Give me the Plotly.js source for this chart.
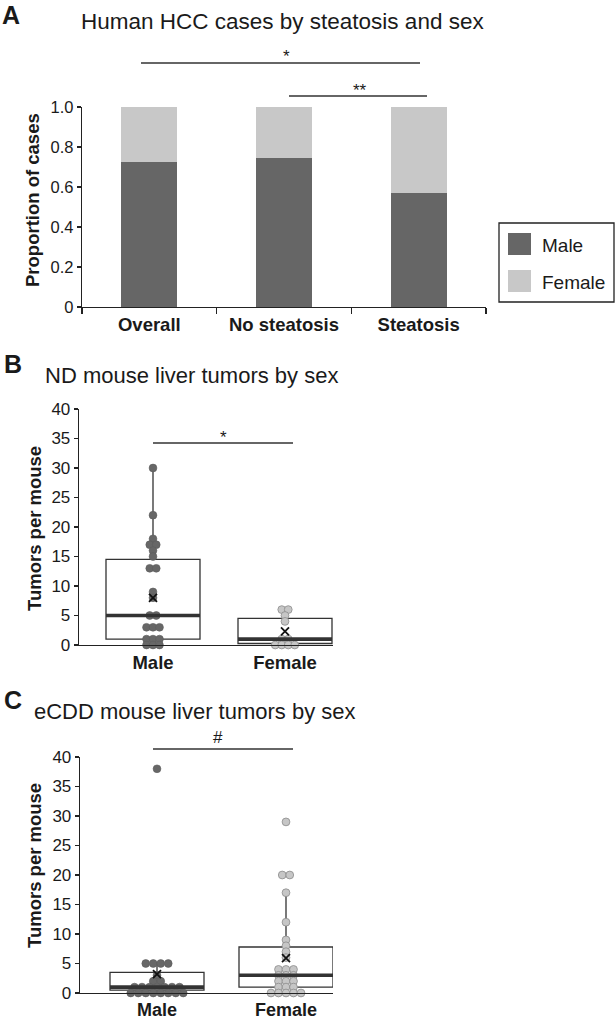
<!DOCTYPE html>
<html>
<head>
<meta charset="utf-8">
<script src="https://cdn.plot.ly/plotly-3.0.1.min.js"></script>
<style>html,body{margin:0;padding:0;background:#fff}#chart{width:615px;height:1020px}</style>
</head>
<body>
<div id="chart"></div>
<script>
// ---------- data ----------
const catsA = ['Overall', 'No steatosis', 'Steatosis'];
const maleA = [0.723, 0.745, 0.572];
const femaleA = [0.277, 0.255, 0.428];
const yTickValsA = [0, 0.2, 0.4, 0.6, 0.8, 1.0];
const yTickTextA = ['0', '0.2', '0.4', '0.6', '0.8', '1.0'];

const groups = ['Male', 'Female'];
// ND mouse tumors per mouse
const ndMale = [30, 22, 18, 17, 17, 16, 15, 13, 13, 9, 8, 5, 5, 3, 3, 3, 1, 1, 1, 0, 0, 0];
const ndFemale = [6, 6, 5, 4, 1, 1, 0, 0, 0, 0];
const ndQ1 = [1, 0.25], ndMed = [5, 1], ndQ3 = [14.5, 4.5], ndLo = [0, 0], ndHi = [30, 6], ndMean = [8, 2.3];
// eCDD mouse tumors per mouse
const ecddMale = [38, 5, 5, 5, 5, 3, 2, 2, 1, 1, 1, 1, 1, 1, 1, 0, 0, 0, 0, 0, 0, 0, 0];
const ecddFemale = [29, 20, 20, 17, 12, 9, 8, 7, 6, 4, 4, 4, 3, 3, 3, 2, 2, 2, 1, 1, 1, 0, 0, 0, 0, 0];
const ecddQ1 = [0.5, 1], ecddMed = [1, 3], ecddQ3 = [3.5, 7.8], ecddLo = [0, 0], ecddHi = [5, 17], ecddMean = [3.2, 5.9];
const yTickValsBC = [0, 5, 10, 15, 20, 25, 30, 35, 40];

// ---------- styling ----------
const W = 615, H = 1020;
const px = x => x / W;
const py = y => 1 - y / H;
const FONT = 'Liberation Sans, Arial, sans-serif';
const TXT = '#1a1a1a';
const AX = '#222222';
const maleColor = '#666666', femaleColor = '#c8c8c8';
const maleDot = '#676767', femaleDot = '#c6c6c6', femaleDotLine = '#8c8c8c';

// pixel -> data unit helpers for the two box panels
const pxPerUnitB = 132, pxPerUnitC = 129;
const boxWB = 94 / pxPerUnitB, boxWC = 94 / pxPerUnitC;

function swarm(vals, center, step) {
  const counts = {}, seen = {};
  vals.forEach(v => counts[v] = (counts[v] || 0) + 1);
  return vals.map(v => {
    const n = counts[v];
    const i = seen[v] || 0;
    seen[v] = i + 1;
    return center + (i - (n - 1) / 2) * step;
  });
}

const traces = [];
// Panel A stacked bars
traces.push({type: 'bar', x: catsA, y: maleA, name: 'Male', marker: {color: maleColor}, width: 0.416, xaxis: 'x', yaxis: 'y', hoverinfo: 'skip'});
traces.push({type: 'bar', x: catsA, y: femaleA, name: 'Female', marker: {color: femaleColor}, width: 0.416, xaxis: 'x', yaxis: 'y', hoverinfo: 'skip'});

function boxPanel(xa, ya, q1, med, q3, lo, hi, mean, maleVals, femaleVals, ppu, bw) {
  traces.push({type: 'box', x: [0, 1], q1: q1, median: med, q3: q3, lowerfence: lo, upperfence: hi,
    width: bw, fillcolor: '#ffffff', line: {color: '#333333', width: 1.3}, whiskerwidth: 0,
    boxpoints: false, xaxis: xa, yaxis: ya, hoverinfo: 'skip'});
  const step = (xa === 'x2' ? 6.5 : 7.5) / ppu;
  traces.push({type: 'scatter', mode: 'markers', x: swarm(maleVals, 0, step), y: maleVals, cliponaxis: false,
    marker: {size: 7.8, color: maleDot, line: {color: '#5c5c5c', width: 0.6}}, xaxis: xa, yaxis: ya, hoverinfo: 'skip'});
  traces.push({type: 'scatter', mode: 'markers', x: swarm(femaleVals, 1, step), y: femaleVals, cliponaxis: false,
    marker: {size: 7.8, color: femaleDot, line: {color: femaleDotLine, width: 0.8}}, xaxis: xa, yaxis: ya, hoverinfo: 'skip'});
  traces.push({type: 'scatter', mode: 'markers', x: [0, 1], y: mean, cliponaxis: false,
    marker: {symbol: 'x-thin', size: 8, color: '#111', line: {color: '#111', width: 1.8}}, xaxis: xa, yaxis: ya, hoverinfo: 'skip'});
}
boxPanel('x2', 'y2', ndQ1, ndMed, ndQ3, ndLo, ndHi, ndMean, ndMale, ndFemale, pxPerUnitB, boxWB);
boxPanel('x3', 'y3', ecddQ1, ecddMed, ecddQ3, ecddLo, ecddHi, ecddMean, ecddMale, ecddFemale, pxPerUnitC, boxWC);

// ---------- shapes ----------
const shapes = [];
function medianLines(xa, ya, med, bw) {
  med.forEach((m, i) => shapes.push({type: 'line', xref: xa, yref: ya, x0: i - bw / 2, x1: i + bw / 2, y0: m, y1: m,
    line: {color: '#333333', width: 3.6}}));
}
medianLines('x2', 'y2', ndMed, boxWB);
medianLines('x3', 'y3', ecddMed, boxWC);
function pline(x0, x1, y) {
  shapes.push({type: 'line', xref: 'paper', yref: 'paper', x0: px(x0), x1: px(x1), y0: py(y), y1: py(y), line: {color: '#333333', width: 1.3}});
}
pline(141, 420, 63);
pline(289, 427, 96);
pline(153, 293, 443);
pline(153, 293, 749);
// legend box
shapes.push({type: 'rect', xref: 'paper', yref: 'paper', x0: px(499), x1: px(614), y0: py(302), y1: py(223), line: {color: AX, width: 1.3}});
shapes.push({type: 'rect', xref: 'paper', yref: 'paper', x0: px(508), x1: px(531), y0: py(255), y1: py(233), line: {width: 0}, fillcolor: maleColor});
shapes.push({type: 'rect', xref: 'paper', yref: 'paper', x0: px(508), x1: px(531), y0: py(292), y1: py(270), line: {width: 0}, fillcolor: femaleColor});

// ---------- annotations ----------
const ann = [];
function text(t, x, y, size, opts) {
  ann.push(Object.assign({text: t, xref: 'paper', yref: 'paper', x: px(x), y: py(y), showarrow: false,
    xanchor: 'center', yanchor: 'middle', font: {family: FONT, size: size, color: TXT}}, opts || {}));
}
text('A', 0, 15, 25, {xanchor: 'left', font: {family: FONT, size: 25, color: TXT, weight: 700}});
text('Human HCC cases by steatosis and sex', 282, 21, 22.5);
text('*', 286, 56, 17);
text('**', 360, 90, 17);
text('Male', 540, 245, 19, {xanchor: 'left'});
text('Female', 540, 282, 19, {xanchor: 'left'});
text('Proportion of cases', 33, 200, 18.5, {textangle: -90, font: {family: FONT, size: 18.5, color: TXT, weight: 700}});

text('B', 2, 364, 25, {xanchor: 'left', font: {family: FONT, size: 25, color: TXT, weight: 700}});
text('ND mouse liver tumors by sex', 43, 375, 22, {xanchor: 'left'});
text('*', 223, 437, 17);
text('Tumors per mouse', 34, 529, 18.5, {textangle: -90, font: {family: FONT, size: 18.5, color: TXT, weight: 700}});

text('C', 2, 700, 25, {xanchor: 'left', font: {family: FONT, size: 25, color: TXT, weight: 700}});
text('eCDD mouse liver tumors by sex', 32, 711, 22, {xanchor: 'left'});
text('#', 218, 737, 17);
text('Tumors per mouse', 34, 866, 18.5, {textangle: -90, font: {family: FONT, size: 18.5, color: TXT, weight: 700}});

// ---------- axes ----------
const tickFont = {family: FONT, size: 17, color: TXT};
const catFont = {family: FONT, size: 18.5, color: TXT, weight: 700};
const catFontC = {family: FONT, size: 18, color: TXT, weight: 700};
const base = {showgrid: false, zeroline: false, showline: true, linecolor: AX, linewidth: 1.3, fixedrange: true};

const layout = {
  width: W, height: H,
  margin: {l: 0, r: 0, t: 0, b: 0},
  paper_bgcolor: '#ffffff', plot_bgcolor: 'rgba(0,0,0,0)',
  showlegend: false,
  barmode: 'stack',
  font: {family: FONT, color: TXT},
  xaxis: Object.assign({}, base, {domain: [px(82), px(486)], anchor: 'y', type: 'category', range: [-0.5, 2.5],
    tickson: 'boundaries', ticks: 'outside', ticklen: 6, tickcolor: AX, tickwidth: 1.3, tickfont: catFont}),
  yaxis: Object.assign({}, base, {domain: [py(307), py(107)], anchor: 'x', range: [0, 1],
    tickvals: yTickValsA, ticktext: yTickTextA, ticks: 'outside', ticklen: 4, tickcolor: AX, tickwidth: 1.3,
    tickfont: {family: FONT, size: 16.5, color: TXT}}),
  xaxis2: Object.assign({}, base, {domain: [px(79), px(333)], anchor: 'y2',
    range: [-(153 - 79) / pxPerUnitB, (333 - 153) / pxPerUnitB], tickvals: [0, 1], ticktext: groups, ticks: '', tickfont: catFont}),
  yaxis2: Object.assign({}, base, {domain: [py(645), py(409)], anchor: 'x2', range: [0, 40],
    tickvals: yTickValsBC, ticks: 'outside', ticklen: 4, tickcolor: AX, tickwidth: 1.3, tickfont: tickFont}),
  xaxis3: Object.assign({}, base, {domain: [px(80), px(333)], anchor: 'y3',
    range: [-(157 - 80) / pxPerUnitC, (333 - 157) / pxPerUnitC], tickvals: [0, 1], ticktext: groups, ticks: '', tickfont: catFontC}),
  yaxis3: Object.assign({}, base, {domain: [py(993), py(757)], anchor: 'x3', range: [0, 40],
    tickvals: yTickValsBC, ticks: 'outside', ticklen: 4, tickcolor: AX, tickwidth: 1.3, tickfont: tickFont}),
  shapes: shapes,
  annotations: ann
};

Plotly.newPlot('chart', traces, layout, {staticPlot: true, displayModeBar: false});
</script>
</body>
</html>
